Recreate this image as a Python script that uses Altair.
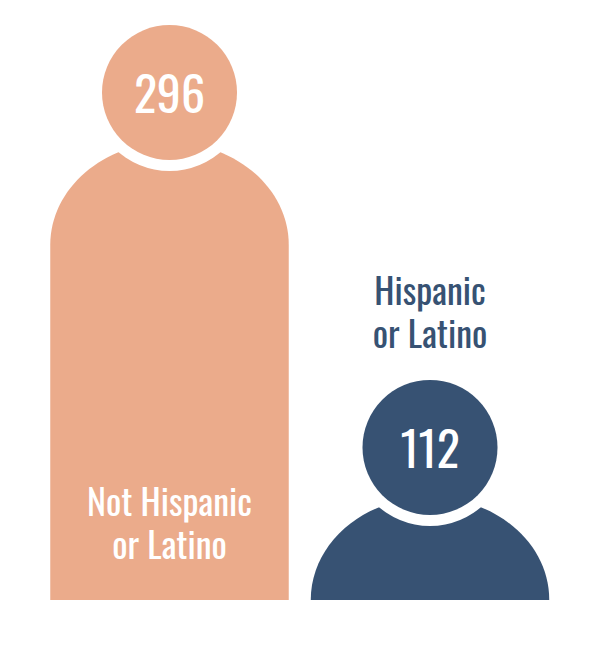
import altair as alt
import pandas as pd

categories = ["Not Hispanic or Latino", "Hispanic or Latino"]
values = [296, 112]
colors = ["#EBAB8B", "#375273"]
label_lines = ["Not Hispanic\nor Latino", "Hispanic\nor Latino"]
label_colors = ["#FFFFFF", "#375273"]
FONT = "Oswald, Roboto Condensed, Lato"
BASE = -2.05
BODY_DROP = 114  # dome centre sits this many value units below the head's top

df = pd.DataFrame({
    "cat": categories,
    "value": values,
    "label": label_lines,
    "shoulder": [v - BODY_DROP for v in values],
    "base": [BASE] * len(values),
})

x = alt.X("cat:N", axis=None, sort=categories,
          scale=alt.Scale(type="point", domain=categories, range=[161.5, 422], padding=0))
yscale = alt.Scale(domain=[BASE, 296], range=[592, 17], nice=False, zero=False)
color = alt.Color("cat:N", legend=None,
                  scale=alt.Scale(domain=categories, range=colors))

base = alt.Chart(df).encode(x=x)

body = base.mark_bar(width=238.5).encode(
    y=alt.Y("shoulder:Q", scale=yscale, axis=None),
    y2="base:Q",
    color=color,
)

DOME = ("M-1,0 C-1,-0.4747 -0.5523,-0.8595 0,-0.8595 "
        "C0.5523,-0.8595 1,-0.4747 1,0 Z")
dome = base.mark_point(shape=DOME, size=238.5 ** 2, filled=True, opacity=1, strokeWidth=0).encode(
    y=alt.Y("shoulder:Q", scale=yscale, axis=None),
    color=color,
)

ring = base.mark_point(shape="circle", size=157 ** 2, filled=True, opacity=1,
                       strokeWidth=0, yOffset=67.5, color="#FFFFFF").encode(
    y=alt.Y("value:Q", scale=yscale, axis=None),
)

head = base.mark_point(shape="circle", size=135 ** 2, filled=True, opacity=1,
                       strokeWidth=0, yOffset=67.5).encode(
    y=alt.Y("value:Q", scale=yscale, axis=None),
    color=color,
)

num = base.mark_text(font=FONT, fontSize=48, color="#FFFFFF", baseline="alphabetic",
                     align="center", yOffset=88).encode(
    y=alt.Y("value:Q", scale=yscale, axis=None),
    text=alt.Text("value:Q"),
)

lab_left = base.transform_filter(alt.datum.cat == categories[0]).mark_text(
    font=FONT, fontSize=36, color=label_colors[0], baseline="alphabetic", align="center",
    lineBreak="\n", lineHeight=43).encode(y=alt.value(508), text="label:N")

lab_right = base.transform_filter(alt.datum.cat == categories[1]).mark_text(
    font=FONT, fontSize=36, color=label_colors[1], baseline="alphabetic", align="center",
    lineBreak="\n", lineHeight=43).encode(y=alt.value(297), text="label:N")

chart = alt.layer(body, dome, ring, head, num, lab_left, lab_right).properties(
    width=584, height=634, padding=0, background="#FFFFFF"
).configure_view(stroke=None)

chart.save("out.html", embed_options={"renderer": "svg", "actions": False})
